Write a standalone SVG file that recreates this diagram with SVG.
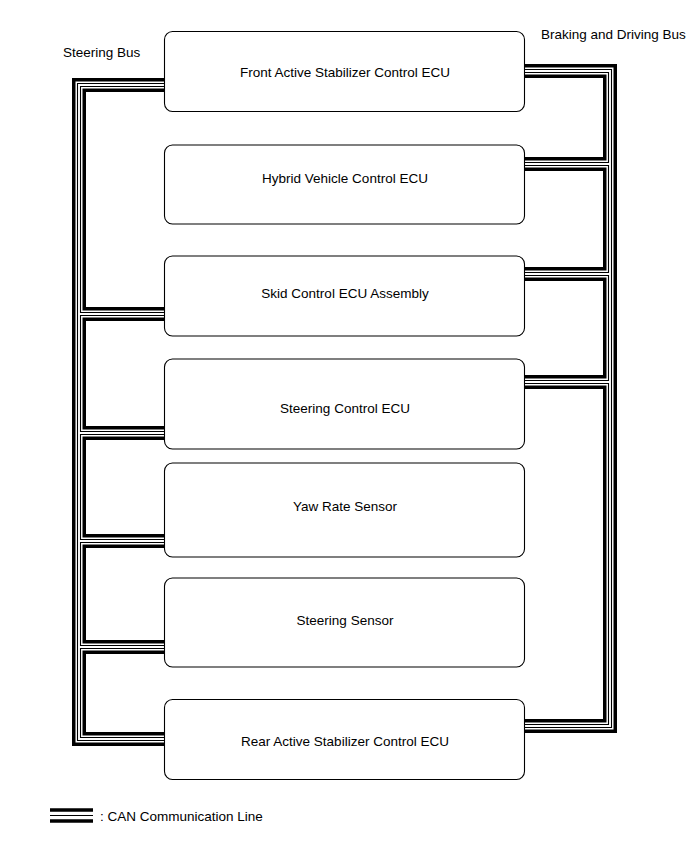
<svg xmlns="http://www.w3.org/2000/svg" width="690" height="855" viewBox="0 0 690 855">
<style>
.thk{fill:none;stroke:#000;stroke-width:3.5;stroke-linejoin:miter}
.thn{fill:none;stroke:#000;stroke-width:1.1;stroke-linejoin:miter}
.box{fill:#fff;stroke:#000;stroke-width:1.1}
.lbl{font-family:"Liberation Sans",Arial,sans-serif;font-size:13.5px;fill:#000}
.ctr{text-anchor:middle}
</style>
<rect width="690" height="855" fill="#fff"/>
<g id="connectors">
<!-- Steering Bus (left) -->
<path class="thk" d="M165,79.75 H73.75 V744.25 H165"/>
<path class="thn" d="M165,83.5 H77.5 V740.5 H165"/>
<path class="thn" d="M165,86.5 H80.5 V312.5 H165"/>
<path class="thk" d="M165,90.25 H84.25 V308.75 H165"/>
<path class="thn" d="M165,315.5 H80.5 V431.5 H165"/>
<path class="thk" d="M165,319.25 H84.25 V427.75 H165"/>
<path class="thn" d="M165,434.5 H80.5 V539.5 H165"/>
<path class="thk" d="M165,438.25 H84.25 V535.75 H165"/>
<path class="thn" d="M165,542.5 H80.5 V645.5 H165"/>
<path class="thk" d="M165,546.25 H84.25 V641.75 H165"/>
<path class="thn" d="M165,648.5 H80.5 V737.5 H165"/>
<path class="thk" d="M165,652.25 H84.25 V733.75 H165"/>
<!-- Braking and Driving Bus (right) -->
<path class="thk" d="M525,65.75 H615.25 V731.25 H525"/>
<path class="thn" d="M525,69.5 H611.5 V727.5 H525"/>
<path class="thn" d="M525,72.5 H608.5 V162.5 H525"/>
<path class="thk" d="M525,76.25 H604.75 V158.75 H525"/>
<path class="thn" d="M525,165.5 H608.5 V272.5 H525"/>
<path class="thk" d="M525,169.25 H604.75 V268.75 H525"/>
<path class="thn" d="M525,275.5 H608.5 V380.5 H525"/>
<path class="thk" d="M525,279.25 H604.75 V376.75 H525"/>
<path class="thn" d="M525,383.5 H608.5 V724.5 H525"/>
<path class="thk" d="M525,387.25 H604.75 V720.75 H525"/>
</g>
<g id="front-stabilizer-ecu">
<rect class="box" x="164.5" y="31.5" width="360" height="80" rx="8"/>
<text class="lbl ctr" x="345" y="76.5">Front Active Stabilizer Control ECU</text>
</g>
<g id="hybrid-ecu">
<rect class="box" x="164.5" y="145" width="360" height="79" rx="8"/>
<text class="lbl ctr" x="345" y="182.5">Hybrid Vehicle Control ECU</text>
</g>
<g id="skid-ecu">
<rect class="box" x="164.5" y="256" width="360" height="80" rx="8"/>
<text class="lbl ctr" x="345" y="297.5">Skid Control ECU Assembly</text>
</g>
<g id="steering-ecu">
<rect class="box" x="164.5" y="359" width="360" height="90" rx="8"/>
<text class="lbl ctr" x="345" y="412.5">Steering Control ECU</text>
</g>
<g id="yaw-rate-sensor">
<rect class="box" x="164.5" y="463" width="360" height="94" rx="8"/>
<text class="lbl ctr" x="345" y="510.5">Yaw Rate Sensor</text>
</g>
<g id="steering-sensor">
<rect class="box" x="164.5" y="578" width="360" height="89" rx="8"/>
<text class="lbl ctr" x="345" y="624.5">Steering Sensor</text>
</g>
<g id="rear-stabilizer-ecu">
<rect class="box" x="164.5" y="699.5" width="360" height="80" rx="8"/>
<text class="lbl ctr" x="345" y="745.5">Rear Active Stabilizer Control ECU</text>
</g>
<g id="labels">
<text class="lbl" x="63" y="56.5">Steering Bus</text>
<text class="lbl" x="541" y="38.5">Braking and Driving Bus</text>
</g>
<g id="legend">
<line class="thk" x1="50" y1="810" x2="93" y2="810"/>
<line class="thn" x1="50" y1="815.5" x2="93" y2="815.5"/>
<line class="thk" x1="50" y1="821" x2="93" y2="821"/>
<text class="lbl" x="100" y="821">: CAN Communication Line</text>
</g>
</svg>
